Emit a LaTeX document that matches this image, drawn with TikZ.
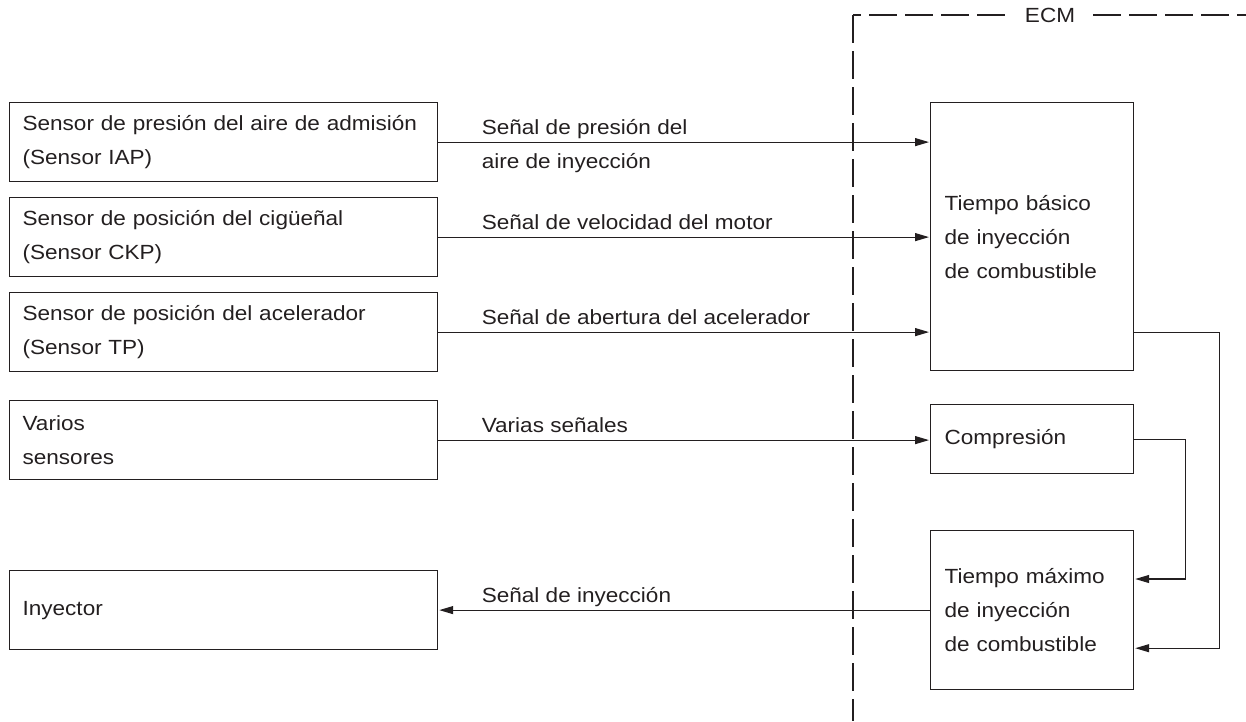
\documentclass[tikz,border=0pt]{standalone}
\usepackage{fontspec}
\setmainfont[FakeStretch=1.1]{Liberation Sans}
\usepackage{xcolor}
\definecolor{Ink}{HTML}{231F20}
\usepackage{tikz}
\usetikzlibrary{arrows.meta,positioning,calc}
\newcommand\sigfont{\fontsize{20.5}{34}\selectfont}
\tikzset{
  box/.style={draw=Ink,line width=1.2pt,minimum height=79pt,text width=402pt,
    inner xsep=13pt,inner ysep=0pt,align=left,font=\sigfont,text=Ink},
  ecmbox/.style={box,text width=175pt,inner xsep=14pt},
  lbl/.style={font=\sigfont,text=Ink,align=left,inner sep=0pt,anchor=base west,
    xshift=43pt,yshift=8pt},
  arrow/.style={-{Triangle[length=14pt,width=8pt]},line width=1.2pt,draw=Ink,shorten >=1pt},
  ecmline/.style={line width=1.2pt,draw=Ink,dash pattern=on 28pt off 8pt}
}

\begin{document}
\begin{tikzpicture}[x=1pt,y=-1pt]
  \useasboundingbox (0,0) rectangle (1246,721);
  % sensores
  \node[box,anchor=north west] (iap) at (9,102)
    {Sensor de presión del aire de admisión\\(Sensor IAP)};
  \node[box,below=14.8pt of iap] (ckp)
    {Sensor de posición del cigüeñal\\(Sensor CKP)};
  \node[box,below=14.8pt of ckp] (tp)
    {Sensor de posición del acelerador\\(Sensor TP)};
  \node[box,below=27.8pt of tp] (varios) {Varios\\sensores};
  \node[box,below=89.8pt of varios] (inyector) {Inyector};
  % ECM
  \node[ecmbox,anchor=north west,minimum height=268pt] (basico) at (930,102)
    {Tiempo básico\\de inyección\\de combustible};
  \node[ecmbox,minimum height=69pt,below=32.8pt of basico] (compresion) {Compresión};
  \node[ecmbox,minimum height=159pt,below=55.8pt of compresion] (maximo)
    {Tiempo máximo\\de inyección\\de combustible};
  \node[font=\sigfont,text=Ink,fill=white,inner xsep=18pt] (ecm) at (1050,15) {ECM};
  \coordinate (ecmcorner) at (853,15);
  \coordinate (ecmbottom) at (853,721);
  \coordinate (ecmright) at (1246,15);
  \draw[ecmline,dash phase=20pt] (ecmcorner) -- (ecm.west);
  \draw[ecmline] (ecmcorner) -- (ecmbottom);
  \draw[ecmline] (ecm.east) -- (ecmright);
  % senales
  \draw[arrow] (iap.east) -- (iap.east -| basico.west)
    node[lbl,pos=0,yshift=-34pt] {Señal de presión del\\aire de inyección};
  \draw[arrow] (ckp.east) -- (ckp.east -| basico.west)
    node[lbl,pos=0] {Señal de velocidad del motor};
  \draw[arrow] (tp.east) -- (tp.east -| basico.west)
    node[lbl,pos=0] {Señal de abertura del acelerador};
  \draw[arrow] (varios.east) -- (varios.east -| compresion.west)
    node[lbl,pos=0] {Varias señales};
  \draw[arrow] (maximo.west |- inyector.east) -- (inyector.east)
    node[lbl,pos=1] {Señal de inyección};
  \draw[arrow] (basico.east |- tp.east) -- ++(85,0) |- ($(maximo.south east)+(0,-42)$);
  \draw[arrow] (compresion.east) -- ++(51,0) |- ($(maximo.north east)+(0,49)$);
\end{tikzpicture}
\end{document}
